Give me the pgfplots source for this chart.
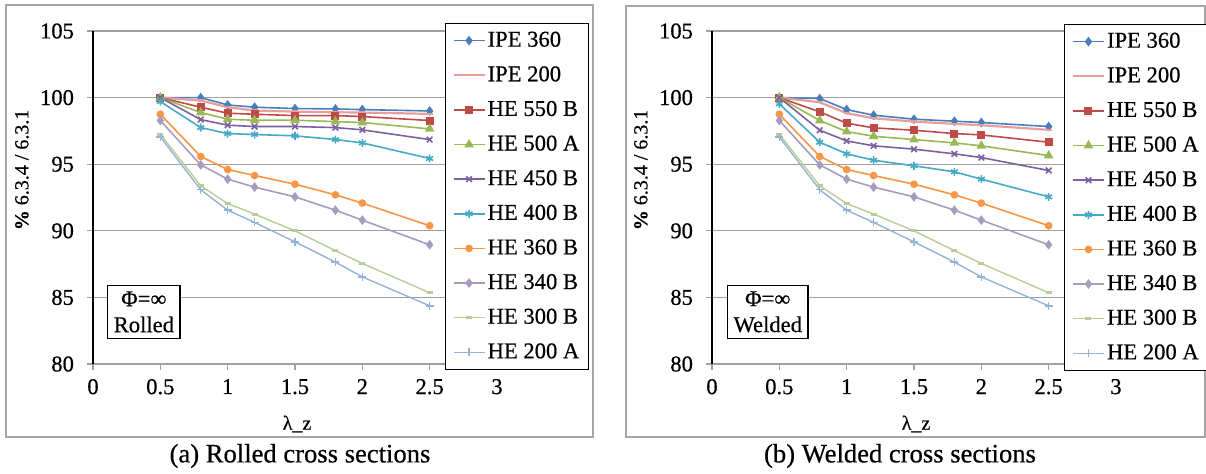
\documentclass[border=0pt]{standalone}
\usepackage{fontspec}
\setmainfont{Liberation Serif}[FakeBold=0.5]
\newfontfamily\lserif{Liberation Serif}[FakeBold=0.5]
\usepackage{pgfplots}
\usepackage{pgfplotstable}
\pgfplotsset{compat=1.18}
\definecolor{cA}{HTML}{4A7EBB}
\definecolor{cB}{HTML}{E3A09F}
\definecolor{cC}{HTML}{BE4B48}
\definecolor{cD}{HTML}{98B954}
\definecolor{cE}{HTML}{7D60A0}
\definecolor{cF}{HTML}{46AAC5}
\definecolor{cG}{HTML}{F79646}
\definecolor{cH}{HTML}{A99BBD}
\definecolor{cI}{HTML}{B9CD96}
\definecolor{cJ}{HTML}{95B3D7}
\definecolor{framegray}{HTML}{A6A6A6}
\definecolor{gridgray}{HTML}{A0A0A0}

\pgfplotstableread{
x    s1     s2     s3     s4     s5     s6     s7     s8     s9     s10
0.5  100    100    100    100    100    99.70  98.75  98.28  97.25  97.05
0.8  100    99.78  99.28  98.88  98.35  97.75  95.58  94.95  93.38  93.08
1.0  99.45  99.28  98.83  98.38  97.93  97.30  94.60  93.88  92.05  91.55
1.2  99.28  99.03  98.75  98.30  97.83  97.23  94.15  93.28  91.25  90.63
1.5  99.18  98.95  98.65  98.30  97.83  97.13  93.50  92.55  90.00  89.17
1.8  99.15  98.90  98.65  98.20  97.75  96.85  92.70  91.55  88.51  87.65
2.0  99.10  98.88  98.58  98.13  97.58  96.60  92.08  90.80  87.55  86.54
2.5  99.00  98.78  98.28  97.65  96.85  95.43  90.38  88.95  85.35  84.37
}\rolled

\pgfplotstableread{
x    s1     s2     s3     s4     s5     s6     s7     s8     s9     s10
0.5  100    100    100    100    100    99.53  98.75  98.28  97.25  97.05
0.8  99.93  99.65  98.93  98.28  97.55  96.65  95.58  94.95  93.38  93.08
1.0  99.10  98.83  98.08  97.45  96.75  95.78  94.60  93.88  92.05  91.55
1.2  98.68  98.45  97.73  97.10  96.38  95.30  94.15  93.28  91.25  90.63
1.5  98.38  98.20  97.55  96.85  96.13  94.88  93.50  92.55  90.00  89.17
1.8  98.23  98.03  97.30  96.60  95.78  94.43  92.70  91.55  88.51  87.65
2.0  98.13  97.93  97.20  96.38  95.50  93.88  92.08  90.80  87.55  86.54
2.5  97.83  97.58  96.65  95.65  94.53  92.55  90.38  88.95  85.35  84.37
}\welded

\newcommand{\myfs}{\lserif\fontsize{11.3}{13}\selectfont}
\newcommand{\mycapfs}{\lserif\fontsize{13.3}{15}\selectfont}

\pgfplotsset{
  base/.style={
    scale only axis, width=202pt, height=166.5pt,
    anchor=south west,
    xmin=0, xmax=3, ymin=80, ymax=105,
    xtick={0,0.5,1,1.5,2,2.5,3}, ytick={80,85,90,95,100,105},
    xticklabels={0,0.5,1,1.5,2,2.5,3},
    yticklabels={80,85,90,95,100,105},
    axis x line*=bottom, axis y line*=left,
    x axis line style={draw=gridgray, line width=1pt, -},
    y axis line style={draw=black, line width=1pt, -},
    ymajorgrids, grid style={draw=gridgray, line width=0.6pt},
    tick align=outside, major tick length=3pt,
    every tick/.style={draw=gridgray, line width=0.6pt},
    ticklabel style={font=\myfs, text=black},
    yticklabel style={xshift=-3pt},
    xticklabel style={yshift=-1pt},
    xlabel={λ\_z}, ylabel={\textbf{\%} 6.3.4 / 6.3.1},
    label style={font=\myfs, text=black},
    every axis x label/.style={at={(axis description cs:0.505,-0.18)}, anchor=center},
    every axis y label/.style={at={(axis description cs:-0.176,0.583)}, anchor=center, rotate=90},
    clip=false,
    legend cell align=left,
    legend image code/.code={\draw[mark repeat=2,mark phase=2] plot coordinates {(0pt,0pt) (7.75pt,0pt) (15.5pt,0pt)};},
    legend style={anchor=north west, draw=black, line width=0.6pt, font=\myfs, text=black,
      inner xsep=3.5pt, inner ysep=3pt, row sep=6.3pt,
      nodes={inner sep=1pt},
      /tikz/every even column/.append style={column sep=1pt}},
  },
  sA/.style={color=cA, line width=0.8pt, mark=diamond*, mark size=1.8pt, mark options={solid}},
  sB/.style={color=cB, line width=1.1pt, mark=-, mark size=1.5pt, mark options={solid, line width=1.2pt}},
  sC/.style={color=cC, line width=0.8pt, mark=square*, mark size=1.6pt},
  sD/.style={color=cD, line width=0.8pt, mark=triangle*, mark size=2pt},
  sE/.style={color=cE, line width=0.8pt, mark=x, mark size=2pt},
  sF/.style={color=cF, line width=0.8pt, mark=asterisk, mark size=2pt},
  sG/.style={color=cG, line width=0.8pt, mark=*, mark size=1.5pt},
  sH/.style={color=cH, line width=0.8pt, mark=diamond*, mark size=1.8pt},
  sI/.style={color=cI, line width=0.7pt, mark=-, mark size=1.5pt, mark options={line width=1.4pt}},
  sJ/.style={color=cJ, line width=0.7pt, mark=+, mark size=2pt},
}

\begin{document}
\begin{tikzpicture}
\useasboundingbox (0,0) rectangle (603pt,-236.5pt);
\draw[framegray, line width=0.8pt] (3pt,-2.5pt) rectangle (296.5pt,-218.5pt);
\draw[framegray, line width=0.8pt] (313pt,-3pt) rectangle (602.5pt,-218.5pt);
\node[font=\mycapfs] at (150pt,-228pt) {(a) Rolled cross sections};
\node[font=\mycapfs] at (450pt,-228pt) {(b) Welded cross sections};

\begin{axis}[base, at={(46.5pt,-182pt)}, legend style={at={(0.871,1.024)}}]
\addplot[sA] table[x=x,y=s1]{\rolled}; \addlegendentry{IPE 360}
\addplot[sB] table[x=x,y=s2]{\rolled}; \addlegendentry{IPE 200}
\addplot[sC] table[x=x,y=s3]{\rolled}; \addlegendentry{HE 550 B}
\addplot[sD] table[x=x,y=s4]{\rolled}; \addlegendentry{HE 500 A}
\addplot[sE] table[x=x,y=s5]{\rolled}; \addlegendentry{HE 450 B}
\addplot[sF] table[x=x,y=s6]{\rolled}; \addlegendentry{HE 400 B}
\addplot[sG] table[x=x,y=s7]{\rolled}; \addlegendentry{HE 360 B}
\addplot[sH] table[x=x,y=s8]{\rolled}; \addlegendentry{HE 340 B}
\addplot[sI] table[x=x,y=s9]{\rolled}; \addlegendentry{HE 300 B}
\addplot[sJ] table[x=x,y=s10]{\rolled}; \addlegendentry{HE 200 A}
\node[draw=black, line width=0.6pt, fill=white, font=\myfs, align=center, inner sep=3pt, anchor=south west] at (rel axis cs:0.035,0.075) {Φ=∞\\Rolled};
\end{axis}

\begin{axis}[base, at={(356pt,-182pt)}, legend style={at={(0.872,1.021)}}]
\addplot[sA] table[x=x,y=s1]{\welded}; \addlegendentry{IPE 360}
\addplot[sB] table[x=x,y=s2]{\welded}; \addlegendentry{IPE 200}
\addplot[sC] table[x=x,y=s3]{\welded}; \addlegendentry{HE 550 B}
\addplot[sD] table[x=x,y=s4]{\welded}; \addlegendentry{HE 500 A}
\addplot[sE] table[x=x,y=s5]{\welded}; \addlegendentry{HE 450 B}
\addplot[sF] table[x=x,y=s6]{\welded}; \addlegendentry{HE 400 B}
\addplot[sG] table[x=x,y=s7]{\welded}; \addlegendentry{HE 360 B}
\addplot[sH] table[x=x,y=s8]{\welded}; \addlegendentry{HE 340 B}
\addplot[sI] table[x=x,y=s9]{\welded}; \addlegendentry{HE 300 B}
\addplot[sJ] table[x=x,y=s10]{\welded}; \addlegendentry{HE 200 A}
\node[draw=black, line width=0.6pt, fill=white, font=\myfs, align=center, inner sep=3pt, anchor=south west] at (rel axis cs:0.037,0.075) {Φ=∞\\Welded};
\end{axis}
\end{tikzpicture}
\end{document}
